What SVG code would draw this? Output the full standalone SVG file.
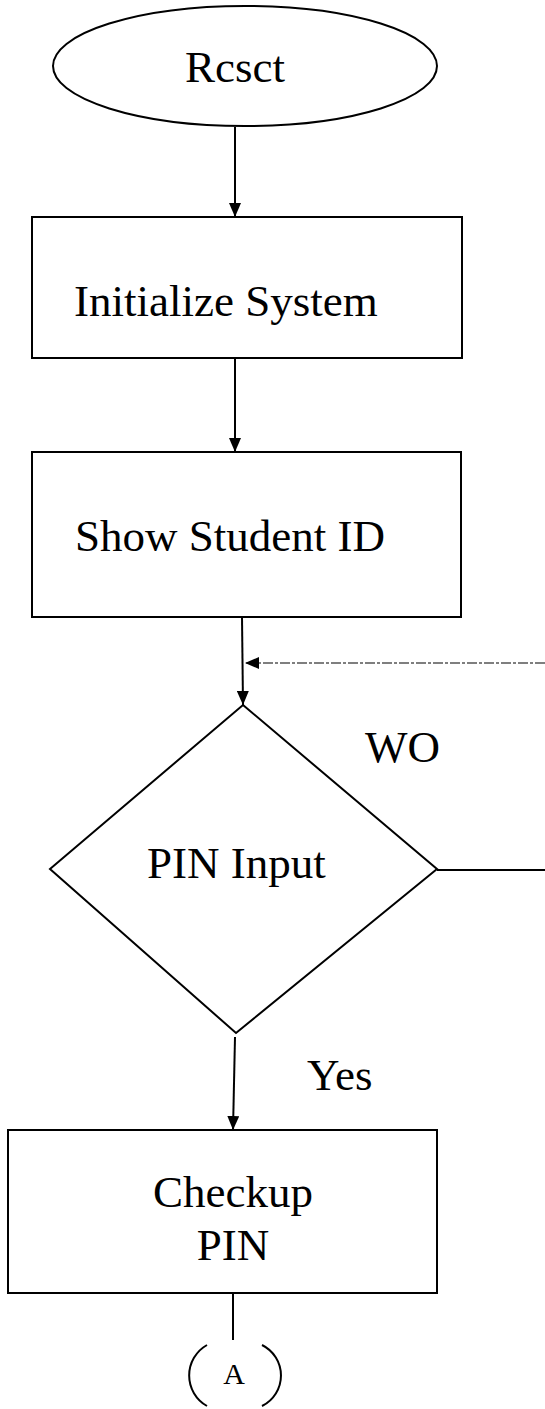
<svg xmlns="http://www.w3.org/2000/svg" width="545" height="1409" viewBox="0 0 545 1409">
<style>
.shape{fill:#fff;stroke:#000;stroke-width:2}
.t{font-family:"Liberation Serif","Times New Roman",serif;font-size:45px;fill:#000}
.c{stroke:#000;stroke-width:2;fill:none}
</style>
<defs>
<marker id="ah2" markerWidth="14" markerHeight="12" refX="14" refY="6" orient="auto" markerUnits="userSpaceOnUse" viewBox="0 0 14 12">
<path d="M0,0 L14,6 L0,12 Z" fill="#000"/>
</marker>
</defs>
<g id="connectors">
<line class="c" x1="235" y1="127" x2="235" y2="217" marker-end="url(#ah2)"/>
<line class="c" x1="235" y1="358" x2="235" y2="452" marker-end="url(#ah2)"/>
<line class="c" x1="242" y1="617" x2="243" y2="705" marker-end="url(#ah2)"/>
<line x1="545" y1="663" x2="245" y2="663" stroke="#555" stroke-width="1.5" stroke-dasharray="10,2,3,2" marker-end="url(#ah2)"/>
<line class="c" x1="437" y1="870" x2="545" y2="870"/>
<line class="c" x1="235" y1="1037" x2="233" y2="1130" marker-end="url(#ah2)"/>
<line class="c" x1="233" y1="1293" x2="233" y2="1340"/>
</g>
<g id="n-reset">
<ellipse class="shape" cx="245" cy="66" rx="192" ry="60"/>
<text class="t" x="235" y="82" text-anchor="middle">Rcsct</text>
</g>
<g id="n-init">
<rect class="shape" x="32" y="217" width="430" height="141"/>
<text class="t" x="74" y="316">Initialize System</text>
</g>
<g id="n-show">
<rect class="shape" x="32" y="452" width="429" height="165"/>
<text class="t" x="75" y="551">Show Student ID</text>
</g>
<g id="n-pin">
<polygon class="shape" points="243,705 437,869 236,1033 50,869"/>
<text class="t" x="147" y="878">PIN Input</text>
</g>
<g id="labels">
<text class="t" x="365" y="762">WO</text>
<text class="t" x="307" y="1090">Yes</text>
</g>
<g id="n-check">
<rect class="shape" x="8" y="1130" width="429" height="163"/>
<text class="t" x="233" y="1207" text-anchor="middle">Checkup</text>
<text class="t" x="233" y="1260" text-anchor="middle">PIN</text>
</g>
<g id="n-a">
<path class="c" d="M207,1345 A35,35 0 0 0 207,1406"/>
<path class="c" d="M262,1345 A34,34 0 0 1 262,1406"/>
<text x="234" y="1384" text-anchor="middle" style="font-family:'Liberation Serif','Times New Roman',serif;font-size:30px">A</text>
</g>
</svg>
